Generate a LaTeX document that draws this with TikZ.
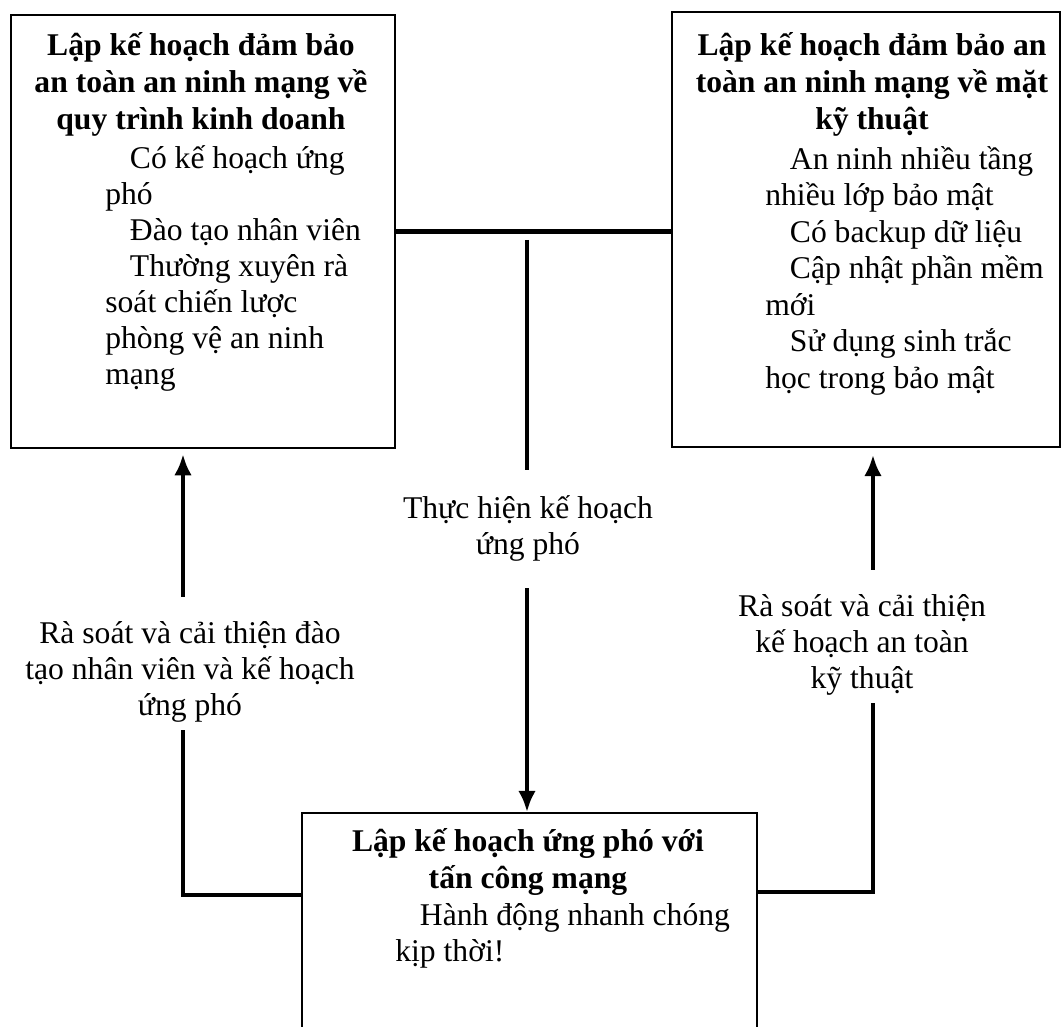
\documentclass[tikz,border=0pt]{standalone}
\usepackage{fontspec}
\setmainfont{Liberation Serif}
\usetikzlibrary{arrows.meta}
\tikzset{
  box/.style={draw, line width=1.1pt, inner sep=0pt},
  ttl/.style={anchor=north, align=center, inner sep=0pt, font=\fontsize{18}{21.2}\selectfont\bfseries},
  bodytxt/.style={anchor=north west, align=left, inner sep=0pt},
  lbl/.style={align=center, inner xsep=2pt, inner ysep=4pt},
  conn/.style={line width=2.4pt}
}
\begin{document}
\begin{tikzpicture}[x=0.02cm,y=-0.02cm,>={Latex[length=12pt,width=10pt]},font=\fontsize{18}{20.5}\selectfont]
\useasboundingbox (0,0) rectangle (1063,1027);
\clip (0,0) rectangle (1063,1027);
\node[box,minimum width=7.68cm,minimum height=8.66cm] (lbox) at (203,231.5) {};
\node[box,minimum width=7.76cm,minimum height=8.7cm] (rbox) at (866,229.5) {};
\node[box,minimum width=9.1cm,minimum height=6cm,anchor=north] (bbox) at (529.5,812) {};

\node[ttl] (ltitle) at (201,32) {Lập kế hoạch đảm bảo\\an toàn an ninh mạng về\\quy trình kinh doanh};
\node[bodytxt] (lbody) at (105,145) {\hspace*{14pt}Có kế hoạch ứng\\phó\\\hspace*{14pt}Đào tạo nhân viên\\\hspace*{14pt}Thường xuyên rà\\soát chiến lược\\phòng vệ an ninh\\mạng};
\node[ttl] (rtitle) at (872,32) {Lập kế hoạch đảm bảo an\\toàn an ninh mạng về mặt\\kỹ thuật};
\node[bodytxt,font=\fontsize{18}{20.8}\selectfont] (rbody) at (765,146) {\hspace*{14pt}An ninh nhiều tầng\\nhiều lớp bảo mật\\\hspace*{14pt}Có backup dữ liệu\\\hspace*{14pt}Cập nhật phần mềm\\mới\\\hspace*{14pt}Sử dụng sinh trắc\\học trong bảo mật};
\node[ttl] (btitle) at (528,828) {Lập kế hoạch ứng phó với\\tấn công mạng};
\node[bodytxt] (bbody) at (395,903) {\hspace*{14pt}Hành động nhanh chóng\\kịp thời!};

\node[lbl] (mlabel) at (528,528) {Thực hiện kế hoạch\\ứng phó};
\node[lbl] (llabel) at (190,672) {Rà soát và cải thiện đào\\tạo nhân viên và kế hoạch\\ứng phó};
\node[lbl] (rlabel) at (862,645) {Rà soát và cải thiện\\kế hoạch an toàn\\kỹ thuật};

\coordinate (mtop) at (527,240);
\coordinate (lcorner) at (183,895);
\coordinate (rcorner) at (873,892);
\draw[conn] (lbox.east) -- (lbox.east -| rbox.west);
\draw[conn,shorten >=10pt] (mtop) -- (mlabel.north -| mtop);
\draw[conn,->,shorten <=11.5pt] (mlabel.south -| mtop) -- (bbox.north -| mtop);
\draw[conn] (bbox.west |- lcorner) -- (lcorner) -- (llabel.south -| lcorner);
\draw[conn,->,shorten <=10pt,shorten >=3pt] (llabel.north -| lcorner) -- (lbox.south -| lcorner);
\draw[conn] (bbox.east |- rcorner) -- (rcorner) -- (rlabel.south -| rcorner);
\draw[conn,->,shorten <=10pt,shorten >=4pt] (rlabel.north -| rcorner) -- (rbox.south -| rcorner);
\end{tikzpicture}
\end{document}
